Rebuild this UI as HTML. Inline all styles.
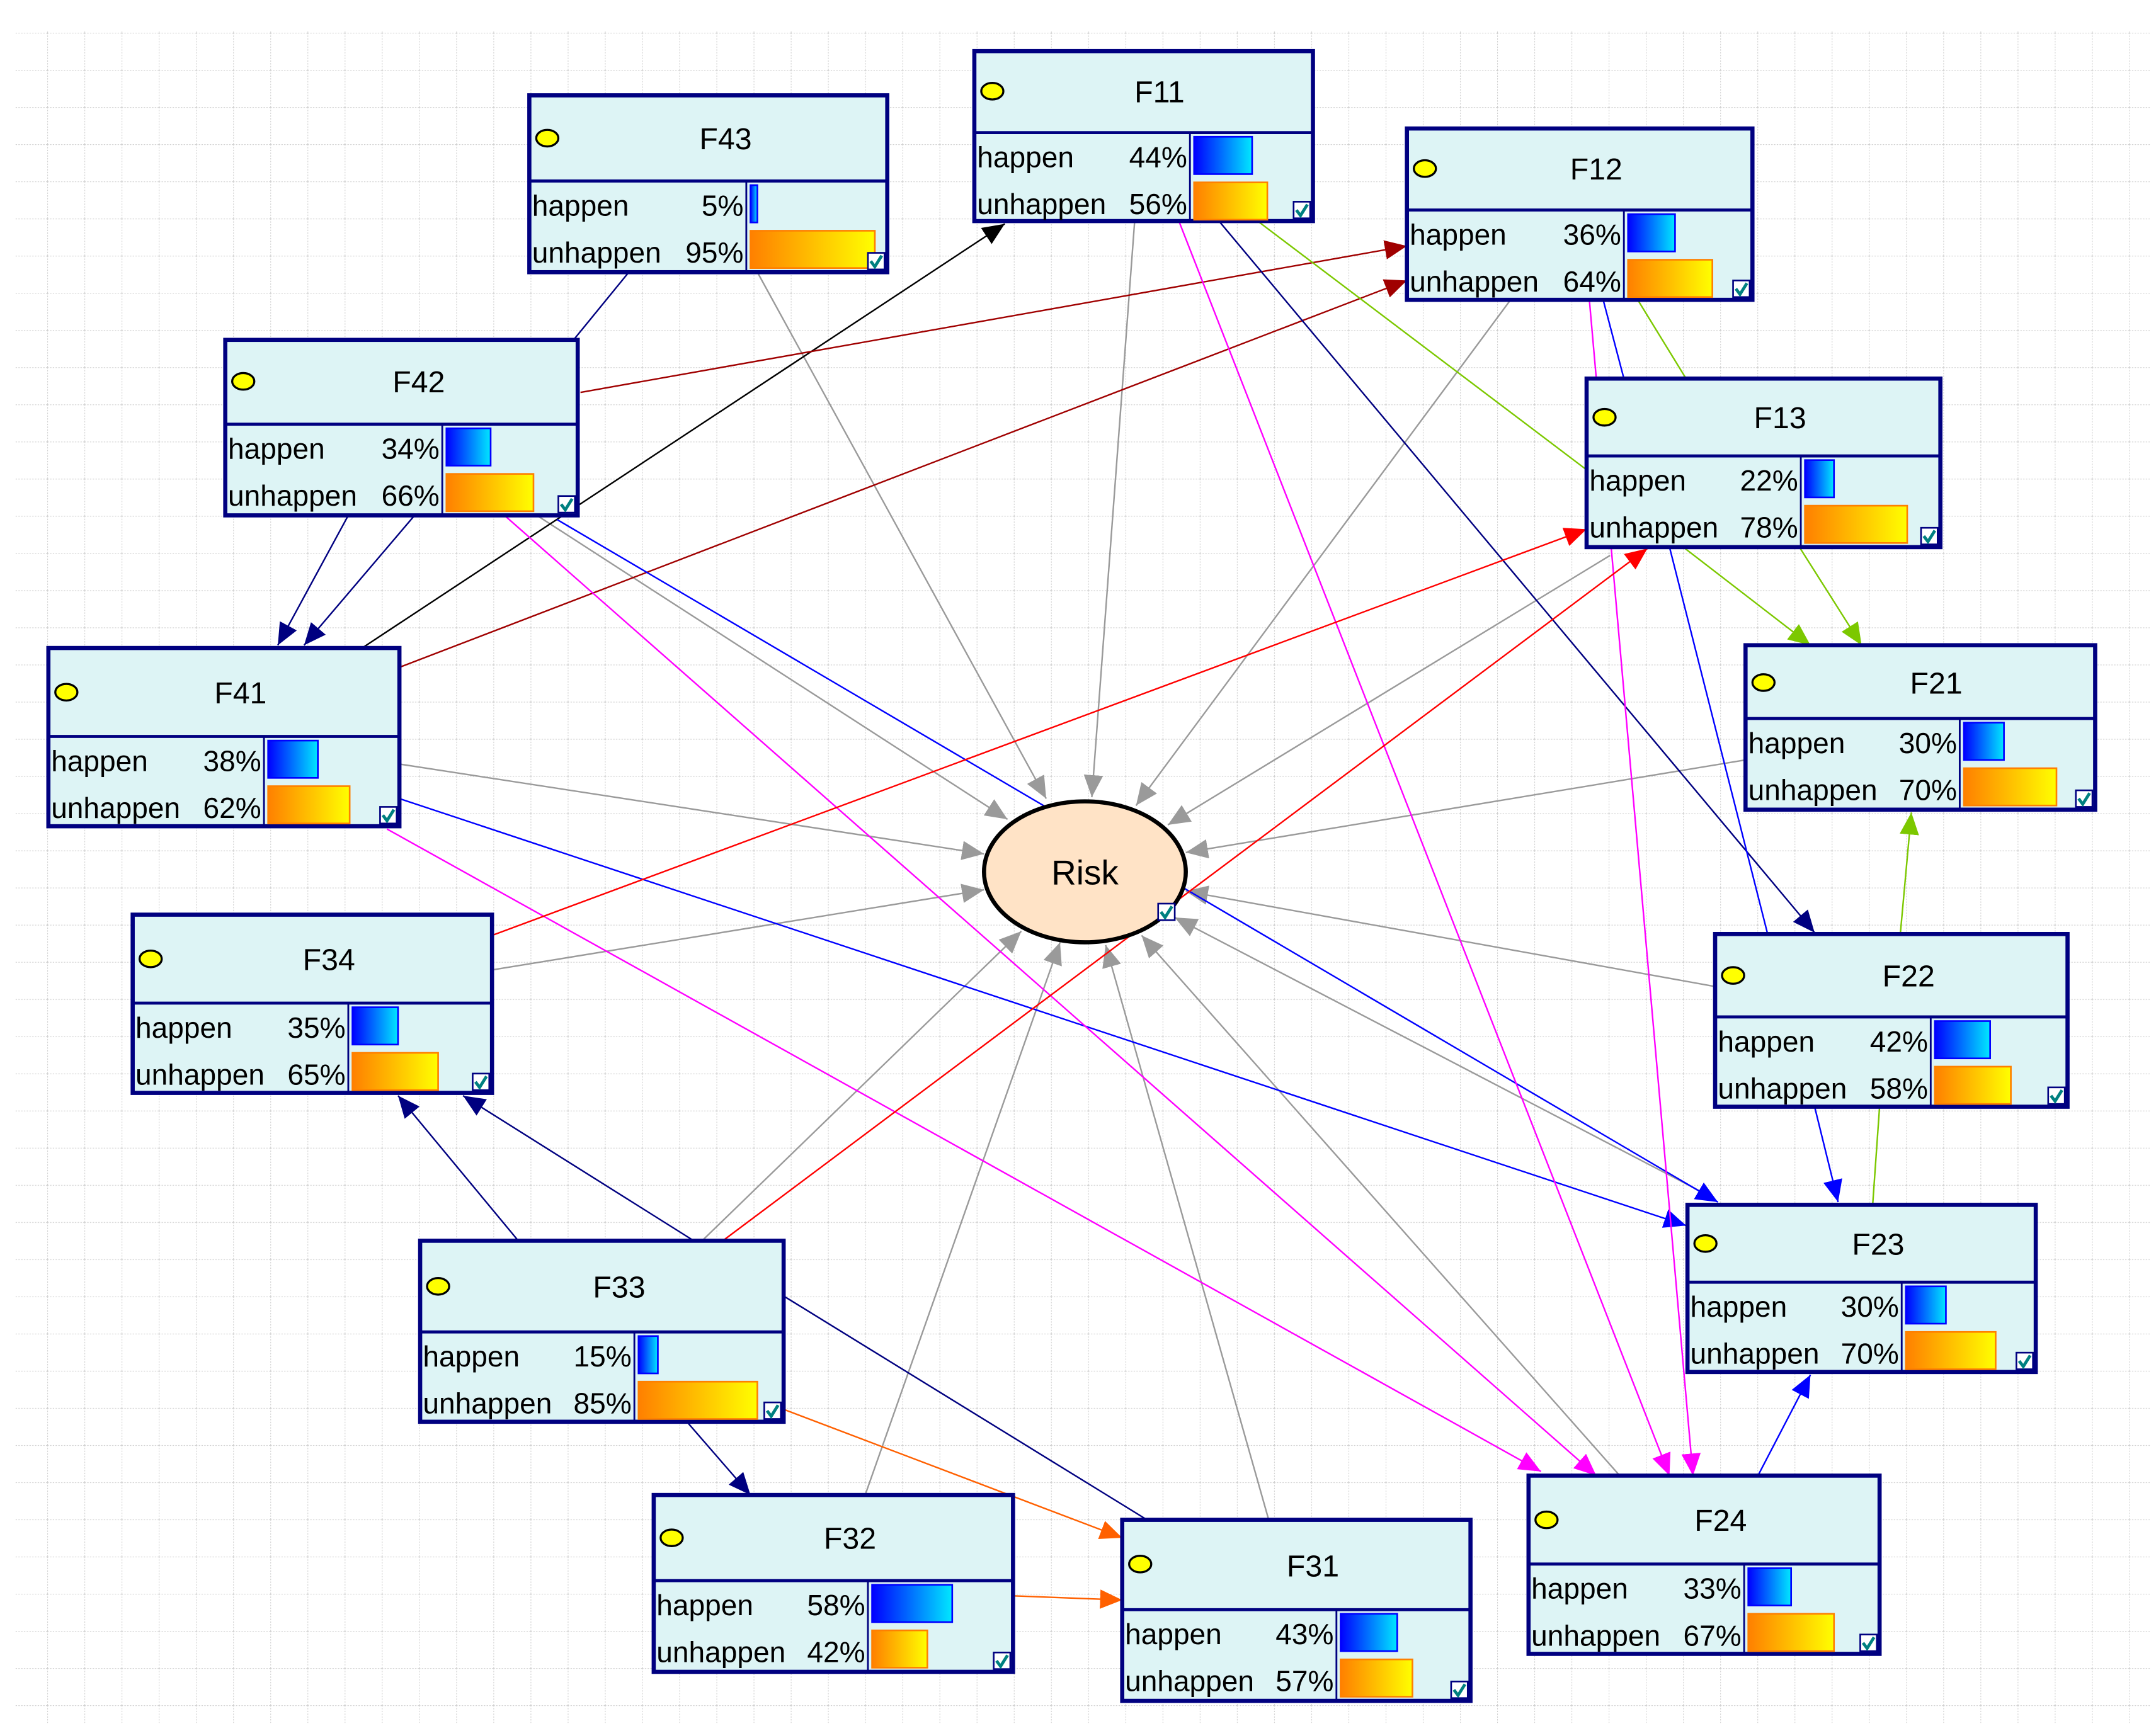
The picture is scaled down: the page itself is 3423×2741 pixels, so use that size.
<!DOCTYPE html>
<html><head><meta charset="utf-8"><style>
html,body{margin:0;padding:0;background:#fff;}
svg{display:block;}
text{font-family:"Liberation Sans",sans-serif;font-size:21px;fill:#000;}
.t{text-anchor:middle;font-size:22px;}
.r{text-anchor:end;}
.nb{fill:#ddf4f5;stroke:#000080;stroke-width:3;}
.hl{stroke:#000080;stroke-width:2.2;}
.dl{stroke:#000080;stroke-width:1.3;}
.dot{fill:#ffff00;stroke:#000;stroke-width:1.5;}
.b1{fill:url(#gb);stroke:#0000ff;stroke-width:1.2;}
.b2{fill:url(#go);stroke:#ff8000;stroke-width:1.2;}
.cb{fill:#fff;stroke:#000080;stroke-width:1.2;}
.ck{fill:none;stroke:#008080;stroke-width:2.2;}
.e{fill:none;stroke-width:1.1;}
</style></head><body>
<svg width="3423" height="2741" viewBox="0 0 1560 1249.2" xmlns="http://www.w3.org/2000/svg">
<defs>
<linearGradient id="gb" x1="0" x2="1"><stop offset="0" stop-color="#0000ff"/><stop offset="1" stop-color="#00e8ff"/></linearGradient>
<linearGradient id="go" x1="0" x2="1"><stop offset="0" stop-color="#ff8000"/><stop offset="1" stop-color="#ffff00"/></linearGradient>
<pattern id="grid" patternUnits="userSpaceOnUse" x="34.2" y="23.7" width="26.9" height="26.9">
<line x1="0" y1="0" x2="26.9" y2="0" stroke="#cfcfcf" stroke-width="1" stroke-dasharray="1 1"/>
<line x1="0" y1="0" x2="0" y2="26.9" stroke="#cfcfcf" stroke-width="1" stroke-dasharray="1 1"/>
</pattern>
<marker id="mg" markerUnits="userSpaceOnUse" markerWidth="18" markerHeight="14" refX="16" refY="7" orient="auto"><path d="M0,0 L16,7 L0,14 z" fill="#9a9a9a"/></marker>
<marker id="mk" markerUnits="userSpaceOnUse" markerWidth="18" markerHeight="14" refX="16" refY="7" orient="auto"><path d="M0,0 L16,7 L0,14 z" fill="#000"/></marker>
<marker id="mdr" markerUnits="userSpaceOnUse" markerWidth="18" markerHeight="14" refX="16" refY="7" orient="auto"><path d="M0,0 L16,7 L0,14 z" fill="#a00000"/></marker>
<marker id="mn" markerUnits="userSpaceOnUse" markerWidth="18" markerHeight="14" refX="16" refY="7" orient="auto"><path d="M0,0 L16,7 L0,14 z" fill="#000080"/></marker>
<marker id="mb" markerUnits="userSpaceOnUse" markerWidth="18" markerHeight="14" refX="16" refY="7" orient="auto"><path d="M0,0 L16,7 L0,14 z" fill="#0000ff"/></marker>
<marker id="mgr" markerUnits="userSpaceOnUse" markerWidth="18" markerHeight="14" refX="16" refY="7" orient="auto"><path d="M0,0 L16,7 L0,14 z" fill="#7cc800"/></marker>
<marker id="mm" markerUnits="userSpaceOnUse" markerWidth="18" markerHeight="14" refX="16" refY="7" orient="auto"><path d="M0,0 L16,7 L0,14 z" fill="#ff00ff"/></marker>
<marker id="mr" markerUnits="userSpaceOnUse" markerWidth="18" markerHeight="14" refX="16" refY="7" orient="auto"><path d="M0,0 L16,7 L0,14 z" fill="#ff0000"/></marker>
<marker id="mo" markerUnits="userSpaceOnUse" markerWidth="18" markerHeight="14" refX="16" refY="7" orient="auto"><path d="M0,0 L16,7 L0,14 z" fill="#ff6000"/></marker>
</defs>
<rect x="0" y="0" width="1560" height="1249.2" fill="#fff"/>
<rect x="10.5" y="22" width="1545" height="1225" fill="url(#grid)"/>

<!-- gray edges to Risk -->
<g class="e" stroke="#9a9a9a" marker-end="url(#mg)">
<line x1="548" y1="197" x2="757" y2="578"/>
<line x1="821" y1="160" x2="790" y2="577"/>
<line x1="1093" y1="217" x2="822" y2="583"/>
<line x1="1165" y1="402" x2="845" y2="597"/>
<line x1="390" y1="374" x2="729" y2="593"/>
<line x1="289" y1="553" x2="712" y2="618"/>
<line x1="1263" y1="550" x2="858" y2="617"/>
<line x1="356" y1="702" x2="712" y2="644"/>
<line x1="1241" y1="714" x2="858" y2="645"/>
<line x1="1230" y1="862" x2="850" y2="664"/>
<line x1="508" y1="898" x2="739" y2="674"/>
<line x1="626" y1="1082" x2="767" y2="682"/>
<line x1="918" y1="1100" x2="800" y2="684"/>
<line x1="1172" y1="1068" x2="826" y2="677"/>
</g>
<!-- colored edges -->
<line class="e" stroke="#000" x1="262" y1="469" x2="727" y2="162" marker-end="url(#mk)"/>
<line class="e" stroke="#a00000" x1="420" y1="284" x2="1018" y2="178" marker-end="url(#mdr)"/>
<line class="e" stroke="#a00000" x1="289" y1="483" x2="1018" y2="203" marker-end="url(#mdr)"/>
<line class="e" stroke="#000080" x1="455" y1="197" x2="415" y2="246"/>
<line class="e" stroke="#000080" x1="252" y1="373" x2="201" y2="467" marker-end="url(#mn)"/>
<line class="e" stroke="#000080" x1="300" y1="373" x2="220" y2="467" marker-end="url(#mn)"/>
<line class="e" stroke="#0000ff" x1="403" y1="376" x2="1243" y2="870" marker-end="url(#mb)"/>
<line class="e" stroke="#0000ff" x1="289" y1="578" x2="1220" y2="887" marker-end="url(#mb)"/>
<line class="e" stroke="#000080" x1="882" y1="160" x2="1313" y2="675" marker-end="url(#mn)"/>
<line class="e" stroke="#0000ff" x1="1160" y1="217" x2="1175" y2="274"/>
<line class="e" stroke="#0000ff" x1="1208" y1="396" x2="1279" y2="676"/>
<line class="e" stroke="#0000ff" x1="1313" y1="801" x2="1330" y2="870" marker-end="url(#mb)"/>
<line class="e" stroke="#7cc800" x1="910" y1="160" x2="1148" y2="340"/>
<line class="e" stroke="#7cc800" x1="1185" y1="217" x2="1220" y2="274"/>
<line class="e" stroke="#7cc800" x1="1218" y1="396" x2="1310" y2="467" marker-end="url(#mgr)"/>
<line class="e" stroke="#7cc800" x1="1302" y1="396" x2="1347" y2="467" marker-end="url(#mgr)"/>
<line class="e" stroke="#7cc800" x1="1375" y1="676" x2="1383" y2="588" marker-end="url(#mgr)"/>
<line class="e" stroke="#7cc800" x1="1355" y1="872" x2="1360" y2="801"/>
<line class="e" stroke="#ff00ff" x1="853" y1="160" x2="1208" y2="1068" marker-end="url(#mm)"/>
<line class="e" stroke="#ff00ff" x1="1150" y1="217" x2="1225" y2="1068" marker-end="url(#mm)"/>
<line class="e" stroke="#ff00ff" x1="365" y1="373" x2="1155" y2="1068" marker-end="url(#mm)"/>
<line class="e" stroke="#ff00ff" x1="280" y1="600" x2="1115" y2="1065" marker-end="url(#mm)"/>
<line class="e" stroke="#ff0000" x1="356" y1="677" x2="1148" y2="383" marker-end="url(#mr)"/>
<line class="e" stroke="#ff0000" x1="523" y1="898" x2="1192" y2="397" marker-end="url(#mr)"/>
<line class="e" stroke="#000080" x1="375" y1="898" x2="288" y2="793" marker-end="url(#mn)"/>
<line class="e" stroke="#000080" x1="502" y1="898" x2="335" y2="793" marker-end="url(#mn)"/>
<line class="e" stroke="#000080" x1="567" y1="938" x2="830" y2="1100"/>
<line class="e" stroke="#000080" x1="497" y1="1029" x2="543" y2="1082" marker-end="url(#mn)"/>
<line class="e" stroke="#0000ff" x1="1272" y1="1068" x2="1310" y2="995" marker-end="url(#mb)"/>
<line class="e" stroke="#ff6000" x1="567" y1="1020" x2="812" y2="1113" marker-end="url(#mo)"/>
<line class="e" stroke="#ff6000" x1="733" y1="1155" x2="812" y2="1158" marker-end="url(#mo)"/>

<!-- Risk -->
<ellipse cx="785" cy="631" rx="73" ry="51" fill="#ffe3c6" stroke="#000" stroke-width="3"/>
<text x="785" y="640" class="t" style="font-size:25px">Risk</text>
<rect x="838" y="654" width="12" height="12" class="cb"/><path d="M840,660 L843,664 L848,656" class="ck"/>

<!-- Nodes -->
<g transform="translate(383,69)"><rect width="259" height="128" class="nb"/><line x1="0" y1="62" x2="259" y2="62" class="hl"/><line x1="157" y1="62" x2="157" y2="128" class="dl"/><ellipse cx="13" cy="31" rx="8" ry="6" class="dot"/><text x="142" y="39" class="t">F43</text><text x="2" y="87">happen</text><text x="155" y="87" class="r">5%</text><text x="2" y="121">unhappen</text><text x="155" y="121" class="r">95%</text><rect x="160" y="65" width="5" height="27" class="b1"/><rect x="160" y="98" width="90" height="27" class="b2"/><rect x="245" y="114" width="12" height="12" class="cb"/><path d="M247,120 L250,124 L255,116" class="ck"/></g>

<g transform="translate(705,37)"><rect width="245" height="123" class="nb"/><line x1="0" y1="59" x2="245" y2="59" class="hl"/><line x1="156" y1="59" x2="156" y2="123" class="dl"/><ellipse cx="13" cy="29" rx="8" ry="6" class="dot"/><text x="134" y="37" class="t">F11</text><text x="2" y="84">happen</text><text x="154" y="84" class="r">44%</text><text x="2" y="118">unhappen</text><text x="154" y="118" class="r">56%</text><rect x="159" y="62" width="42" height="27" class="b1"/><rect x="159" y="95" width="53" height="27" class="b2"/><rect x="231" y="109" width="12" height="12" class="cb"/><path d="M233,115 L236,119 L241,111" class="ck"/></g>

<g transform="translate(1018,93)"><rect width="250" height="124" class="nb"/><line x1="0" y1="59" x2="250" y2="59" class="hl"/><line x1="157" y1="59" x2="157" y2="124" class="dl"/><ellipse cx="13" cy="29" rx="8" ry="6" class="dot"/><text x="137" y="37" class="t">F12</text><text x="2" y="84">happen</text><text x="155" y="84" class="r">36%</text><text x="2" y="118">unhappen</text><text x="155" y="118" class="r">64%</text><rect x="160" y="62" width="34" height="27" class="b1"/><rect x="160" y="95" width="61" height="27" class="b2"/><rect x="236" y="110" width="12" height="12" class="cb"/><path d="M238,116 L241,120 L246,112" class="ck"/></g>

<g transform="translate(163,246)"><rect width="255" height="127" class="nb"/><line x1="0" y1="61" x2="255" y2="61" class="hl"/><line x1="157" y1="61" x2="157" y2="127" class="dl"/><ellipse cx="13" cy="30" rx="8" ry="6" class="dot"/><text x="140" y="38" class="t">F42</text><text x="2" y="86">happen</text><text x="155" y="86" class="r">34%</text><text x="2" y="120">unhappen</text><text x="155" y="120" class="r">66%</text><rect x="160" y="64" width="32" height="27" class="b1"/><rect x="160" y="97" width="63" height="27" class="b2"/><rect x="241" y="113" width="12" height="12" class="cb"/><path d="M243,119 L246,123 L251,115" class="ck"/></g>

<g transform="translate(1148,274)"><rect width="256" height="122" class="nb"/><line x1="0" y1="56" x2="256" y2="56" class="hl"/><line x1="155" y1="56" x2="155" y2="122" class="dl"/><ellipse cx="13" cy="28" rx="8" ry="6" class="dot"/><text x="140" y="36" class="t">F13</text><text x="2" y="81">happen</text><text x="153" y="81" class="r">22%</text><text x="2" y="115">unhappen</text><text x="153" y="115" class="r">78%</text><rect x="158" y="59" width="21" height="27" class="b1"/><rect x="158" y="92" width="74" height="27" class="b2"/><rect x="242" y="108" width="12" height="12" class="cb"/><path d="M244,114 L247,118 L252,110" class="ck"/></g>

<g transform="translate(35,469)"><rect width="254" height="129" class="nb"/><line x1="0" y1="64" x2="254" y2="64" class="hl"/><line x1="156" y1="64" x2="156" y2="129" class="dl"/><ellipse cx="13" cy="32" rx="8" ry="6" class="dot"/><text x="139" y="40" class="t">F41</text><text x="2" y="89">happen</text><text x="154" y="89" class="r">38%</text><text x="2" y="123">unhappen</text><text x="154" y="123" class="r">62%</text><rect x="159" y="67" width="36" height="27" class="b1"/><rect x="159" y="100" width="59" height="27" class="b2"/><rect x="240" y="115" width="12" height="12" class="cb"/><path d="M242,121 L245,125 L250,117" class="ck"/></g>

<g transform="translate(1263,467)"><rect width="253" height="119" class="nb"/><line x1="0" y1="53" x2="253" y2="53" class="hl"/><line x1="155" y1="53" x2="155" y2="119" class="dl"/><ellipse cx="13" cy="27" rx="8" ry="6" class="dot"/><text x="138" y="35" class="t">F21</text><text x="2" y="78">happen</text><text x="153" y="78" class="r">30%</text><text x="2" y="112">unhappen</text><text x="153" y="112" class="r">70%</text><rect x="158" y="56" width="29" height="27" class="b1"/><rect x="158" y="89" width="67" height="27" class="b2"/><rect x="239" y="105" width="12" height="12" class="cb"/><path d="M241,111 L244,115 L249,107" class="ck"/></g>

<g transform="translate(96,662)"><rect width="260" height="129" class="nb"/><line x1="0" y1="64" x2="260" y2="64" class="hl"/><line x1="156" y1="64" x2="156" y2="129" class="dl"/><ellipse cx="13" cy="32" rx="8" ry="6" class="dot"/><text x="142" y="40" class="t">F34</text><text x="2" y="89">happen</text><text x="154" y="89" class="r">35%</text><text x="2" y="123">unhappen</text><text x="154" y="123" class="r">65%</text><rect x="159" y="67" width="33" height="27" class="b1"/><rect x="159" y="100" width="62" height="27" class="b2"/><rect x="246" y="115" width="12" height="12" class="cb"/><path d="M248,121 L251,125 L256,117" class="ck"/></g>

<g transform="translate(1241,676)"><rect width="255" height="125" class="nb"/><line x1="0" y1="60" x2="255" y2="60" class="hl"/><line x1="156" y1="60" x2="156" y2="125" class="dl"/><ellipse cx="13" cy="30" rx="8" ry="6" class="dot"/><text x="140" y="38" class="t">F22</text><text x="2" y="85">happen</text><text x="154" y="85" class="r">42%</text><text x="2" y="119">unhappen</text><text x="154" y="119" class="r">58%</text><rect x="159" y="63" width="40" height="27" class="b1"/><rect x="159" y="96" width="55" height="27" class="b2"/><rect x="241" y="111" width="12" height="12" class="cb"/><path d="M243,117 L246,121 L251,113" class="ck"/></g>

<g transform="translate(304,898)"><rect width="263" height="131" class="nb"/><line x1="0" y1="66" x2="263" y2="66" class="hl"/><line x1="155" y1="66" x2="155" y2="131" class="dl"/><ellipse cx="13" cy="33" rx="8" ry="6" class="dot"/><text x="144" y="41" class="t">F33</text><text x="2" y="91">happen</text><text x="153" y="91" class="r">15%</text><text x="2" y="125">unhappen</text><text x="153" y="125" class="r">85%</text><rect x="158" y="69" width="14" height="27" class="b1"/><rect x="158" y="102" width="86" height="27" class="b2"/><rect x="249" y="117" width="12" height="12" class="cb"/><path d="M251,123 L254,127 L259,119" class="ck"/></g>

<g transform="translate(1221,872)"><rect width="252" height="121" class="nb"/><line x1="0" y1="56" x2="252" y2="56" class="hl"/><line x1="155" y1="56" x2="155" y2="121" class="dl"/><ellipse cx="13" cy="28" rx="8" ry="6" class="dot"/><text x="138" y="36" class="t">F23</text><text x="2" y="81">happen</text><text x="153" y="81" class="r">30%</text><text x="2" y="115">unhappen</text><text x="153" y="115" class="r">70%</text><rect x="158" y="59" width="29" height="27" class="b1"/><rect x="158" y="92" width="65" height="27" class="b2"/><rect x="238" y="107" width="12" height="12" class="cb"/><path d="M240,113 L243,117 L248,109" class="ck"/></g>

<g transform="translate(473,1082)"><rect width="260" height="128" class="nb"/><line x1="0" y1="62" x2="260" y2="62" class="hl"/><line x1="155" y1="62" x2="155" y2="128" class="dl"/><ellipse cx="13" cy="31" rx="8" ry="6" class="dot"/><text x="142" y="39" class="t">F32</text><text x="2" y="87">happen</text><text x="153" y="87" class="r">58%</text><text x="2" y="121">unhappen</text><text x="153" y="121" class="r">42%</text><rect x="158" y="65" width="58" height="27" class="b1"/><rect x="158" y="98" width="40" height="27" class="b2"/><rect x="246" y="114" width="12" height="12" class="cb"/><path d="M248,120 L251,124 L256,116" class="ck"/></g>

<g transform="translate(812,1100)"><rect width="252" height="131" class="nb"/><line x1="0" y1="65" x2="252" y2="65" class="hl"/><line x1="155" y1="65" x2="155" y2="131" class="dl"/><ellipse cx="13" cy="32" rx="8" ry="6" class="dot"/><text x="138" y="41" class="t">F31</text><text x="2" y="90">happen</text><text x="153" y="90" class="r">43%</text><text x="2" y="124">unhappen</text><text x="153" y="124" class="r">57%</text><rect x="158" y="68" width="41" height="27" class="b1"/><rect x="158" y="101" width="52" height="27" class="b2"/><rect x="238" y="117" width="12" height="12" class="cb"/><path d="M240,123 L243,127 L248,119" class="ck"/></g>

<g transform="translate(1106,1068)"><rect width="254" height="129" class="nb"/><line x1="0" y1="64" x2="254" y2="64" class="hl"/><line x1="156" y1="64" x2="156" y2="129" class="dl"/><ellipse cx="13" cy="32" rx="8" ry="6" class="dot"/><text x="139" y="40" class="t">F24</text><text x="2" y="89">happen</text><text x="154" y="89" class="r">33%</text><text x="2" y="123">unhappen</text><text x="154" y="123" class="r">67%</text><rect x="159" y="67" width="31" height="27" class="b1"/><rect x="159" y="100" width="62" height="27" class="b2"/><rect x="240" y="115" width="12" height="12" class="cb"/><path d="M242,121 L245,125 L250,117" class="ck"/></g>
</svg>
</body></html>
